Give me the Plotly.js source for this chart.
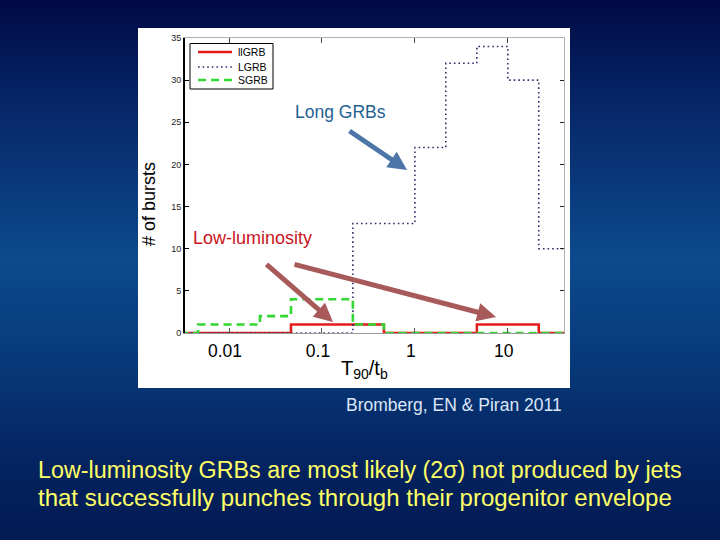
<!DOCTYPE html>
<html>
<head>
<meta charset="utf-8">
<script src="https://cdn.plot.ly/plotly-3.0.1.min.js"></script>
<style>
  html, body { margin:0; padding:0; }
  body {
    width:720px; height:540px; overflow:hidden;
    background: linear-gradient(to bottom, #010a45 0%, #072a6c 22%, #0c4a8d 48%, #083b7c 65%, #042461 85%, #031a52 100%);
  }
  #chart { width:720px; height:540px; }
</style>
</head>
<body>
<div id="chart"></div>
<script>
// ---- data ----
const binEdges    = [0.00215, 0.00464, 0.01, 0.0215, 0.0464, 0.1, 0.215, 0.464, 1, 2.15, 4.64, 10, 21.5, 46.4];
const llgrbCounts = [0, 0, 0, 0, 1, 1, 1, 0, 0, 0, 1, 1, 0];
const lgrbCounts  = [0, 0, 0, 0, 0, 0, 13, 13, 22, 32, 34, 30, 10];
const sgrbCounts  = [0, 1, 1, 2, 4, 4, 1, 0, 0, 0, 0, 0, 0];
const seriesNames = ['llGRB', 'LGRB', 'SGRB'];
const xTickVals = [0.01, 0.1, 1, 10];
const xTickText = ['0.01', '0.1', '1', '10'];
const yTickVals = [0, 5, 10, 15, 20, 25, 30, 35];

// ---- styles ----
const FONT = 'Liberation Sans, Arial, sans-serif';
const lineStyles = [
  { color: '#e31b1b', width: 2.5 },
  { color: '#2b2f6e', width: 1.6, dash: '1.6px,3px' },
  { color: '#33d633', width: 2.6, dash: '8px,5px' }
];

// ---- layout geometry helpers (pixel -> paper) ----
const L = 185, R = 564, T = 38, B = 333;
const PX = p => (p - L) / (R - L);
const PY = p => (B - p) / (B - T);

function steps(counts) { return counts.concat([counts[counts.length - 1]]); }

const seriesCounts = [llgrbCounts, lgrbCounts, sgrbCounts];
const traces = seriesCounts.map((c, i) => ({
  x: binEdges, y: steps(c), name: seriesNames[i], mode: 'lines',
  line: Object.assign({ shape: 'hv' }, lineStyles[i]), showlegend: false
}));
traces.push({ x: [], y: [], xaxis: 'x2', yaxis: 'y2', showlegend: false, hoverinfo: 'skip' });

const xRange = [Math.log10(0.00336), Math.log10(40.2)];

// legend (drawn as a boxed key)
const legRows = [52, 67, 80];
const legendShapes = [
  { type: 'rect', xref: 'paper', yref: 'paper', layer: 'above',
    x0: PX(190), x1: PX(273), y0: PY(89), y1: PY(43.5),
    fillcolor: '#ffffff', line: { color: '#000', width: 1 } }
].concat(seriesNames.map((n, i) => ({
  type: 'line', xref: 'paper', yref: 'paper', layer: 'above',
  x0: PX(198), x1: PX(232), y0: PY(legRows[i]), y1: PY(legRows[i]),
  line: lineStyles[i]
})));
const legendTexts = seriesNames.map((n, i) => ({
  xref: 'paper', yref: 'paper', x: PX(236), y: PY(legRows[i]),
  xanchor: 'left', yanchor: 'middle', text: n, showarrow: false,
  font: { family: FONT, size: 10.5, color: '#000' }
}));

function txt(px, py, text, size, color, extra) {
  return Object.assign({ xref: 'paper', yref: 'paper', x: PX(px), y: PY(py),
    xanchor: 'center', yanchor: 'middle', text: text, showarrow: false,
    font: { family: FONT, size: size, color: color } }, extra || {});
}
function arrow(hx, hy, tx, ty, color) {
  return { xref: 'paper', yref: 'paper', x: PX(hx), y: PY(hy), text: '',
    showarrow: true, ax: tx - hx, ay: ty - hy, arrowhead: 2, arrowsize: 0.75,
    arrowwidth: 5, arrowcolor: color, standoff: 0 };
}

const layout = {
  width: 720, height: 540,
  margin: { l: L, r: 720 - R, t: T, b: 540 - B, pad: 0 },
  paper_bgcolor: 'rgba(0,0,0,0)',
  plot_bgcolor: '#ffffff',
  font: { family: FONT, color: '#000' },
  showlegend: false,
  xaxis: {
    type: 'log', range: xRange,
    tickvals: xTickVals, ticktext: xTickText,
    ticks: 'inside', ticklen: 5, tickcolor: '#555', tickwidth: 1,
    tickfont: { family: FONT, size: 17.5, color: '#000' },
    ticklabelstandoff: 2, ticklabelshift: -4,
    showgrid: false, zeroline: false,
    showline: true, linecolor: '#999', linewidth: 1
  },
  yaxis: {
    range: [0, 35], tickvals: yTickVals,
    ticks: 'inside', ticklen: 4, tickcolor: '#000', tickwidth: 1,
    tickfont: { family: FONT, size: 9, color: '#222' },
    showgrid: false, zeroline: false,
    showline: true, linecolor: '#000', linewidth: 2
  },
  xaxis2: {
    type: 'log', range: xRange, overlaying: 'x', side: 'top',
    tickvals: xTickVals, ticks: 'inside', ticklen: 5, tickcolor: '#444',
    showticklabels: false, showgrid: false, zeroline: false,
    showline: true, linecolor: '#b0b0b0', linewidth: 1
  },
  yaxis2: {
    range: [0, 35], overlaying: 'y', side: 'right', tickvals: yTickVals,
    ticks: 'inside', ticklen: 4, tickcolor: '#222',
    showticklabels: false, showgrid: false, zeroline: false,
    showline: true, linecolor: '#b0b0b0', linewidth: 1
  },
  shapes: [
    { type: 'rect', xref: 'paper', yref: 'paper', layer: 'below',
      x0: PX(138), x1: PX(570), y0: PY(388), y1: PY(28),
      fillcolor: '#ffffff', line: { width: 0 } }
  ].concat(legendShapes),
  annotations: [
    txt(149, 204, '# of bursts', 18, '#000', { textangle: -90 }),
    txt(364, 369, 'T<sub>90</sub>/t<sub>b</sub>', 20, '#000'),
    txt(340, 112, 'Long GRBs', 17.5, '#1f6193'),
    txt(252, 238, 'Low-luminosity', 18, '#c8141e'),
    arrow(407, 170, 348, 130, '#4d76a8'),
    arrow(333, 322, 265, 263, '#a85a5a'),
    arrow(496, 317, 293, 264, '#a85a5a'),
    txt(454, 405, 'Bromberg, EN &amp; Piran 2011', 17.5, '#dce6f8'),
    txt(36, 470, 'Low-luminosity GRBs are most likely (2σ) not produced by jets', 23.3, '#ffff66', { xanchor: 'left' }),
    txt(36, 498, 'that successfully punches through their progenitor envelope', 24, '#ffff66', { xanchor: 'left' })
  ].concat(legendTexts)
};

Plotly.newPlot('chart', traces, layout, { displayModeBar: false, staticPlot: true });
</script>
</body>
</html>
